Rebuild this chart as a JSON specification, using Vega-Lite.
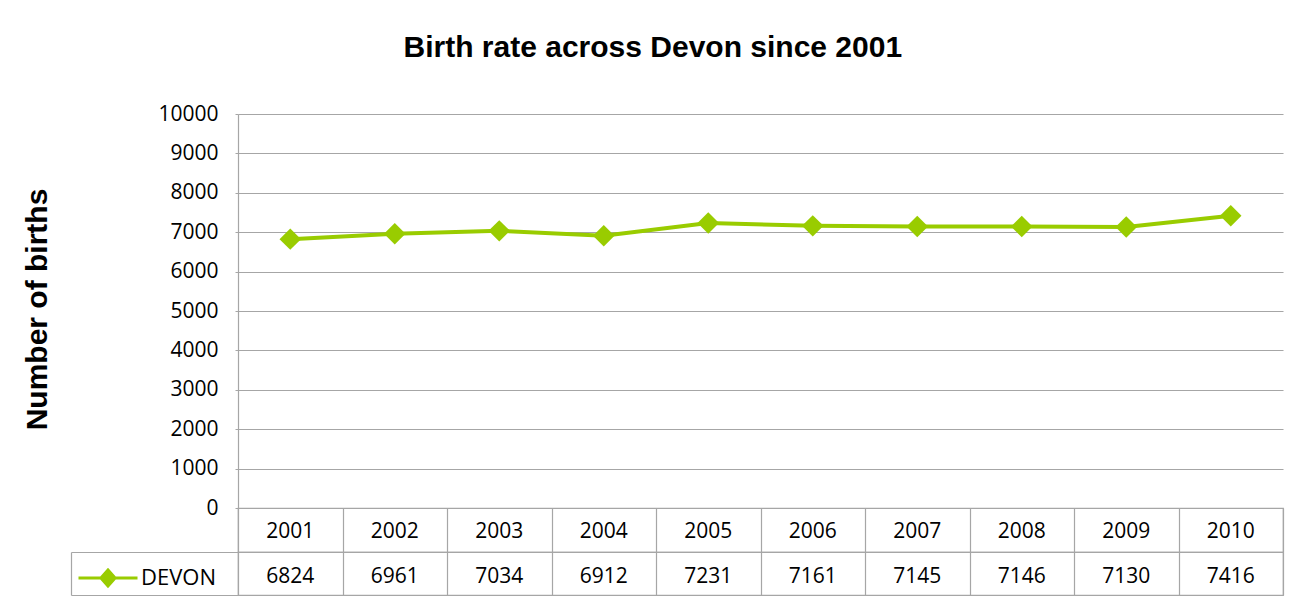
{
  "$schema": "https://vega.github.io/schema/vega-lite/v6.json",
  "padding": {"left": 21, "top": 33, "right": 5, "bottom": 5},
  "background": "white",
  "bounds": "flush",
  "spacing": 0,
  "title": {"text": "Birth rate across Devon since 2001", "font": "Liberation Sans", "fontSize": 30, "fontWeight": "bold", "color": "black", "anchor": "middle", "offset": 40},
  "datasets": {
    "births": [
      {"year": "2001", "births": 6824, "series": "DEVON"},
      {"year": "2002", "births": 6961, "series": "DEVON"},
      {"year": "2003", "births": 7034, "series": "DEVON"},
      {"year": "2004", "births": 6912, "series": "DEVON"},
      {"year": "2005", "births": 7231, "series": "DEVON"},
      {"year": "2006", "births": 7161, "series": "DEVON"},
      {"year": "2007", "births": 7145, "series": "DEVON"},
      {"year": "2008", "births": 7146, "series": "DEVON"},
      {"year": "2009", "births": 7130, "series": "DEVON"},
      {"year": "2010", "births": 7416, "series": "DEVON"}
    ]
  },
  "resolve": {"scale": {"x": "independent", "y": "independent", "color": "independent"}, "axis": {"x": "independent", "y": "independent"}, "legend": {"color": "independent"}},
  "vconcat": [
    {
      "width": 1045,
      "height": 394,
      "view": {"stroke": null},
      "data": {"name": "births"},
      "encoding": {
        "x": {"field": "year", "type": "ordinal", "scale": {"type": "point", "padding": 0.5}, "axis": null},
        "y": {
          "field": "births", "type": "quantitative",
          "scale": {"domain": [0, 10000], "nice": false},
          "axis": {
            "values": [0, 1000, 2000, 3000, 4000, 5000, 6000, 7000, 8000, 9000, 10000],
            "format": "d",
            "grid": true, "gridColor": "#a6a6a6", "gridWidth": 1.2,
            "domain": true, "domainColor": "#a6a6a6", "domainWidth": 1.2,
            "ticks": true, "tickSize": 3, "tickColor": "#a6a6a6",
            "labelFont": "Open Sans", "labelFontSize": 21, "labelColor": "black", "labelPadding": 17,
            "title": "Number of births",
            "titleFont": "Liberation Sans", "titleFontSize": 30, "titleFontWeight": "bold", "titleColor": "black",
            "titleAngle": -90, "titleX": -201, "titleY": 195, "titleAlign": "center", "titleBaseline": "middle"
          }
        },
        "color": {
          "field": "series", "type": "nominal",
          "scale": {"range": ["#99CC00"]},
          "legend": {
            "orient": "none", "legendX": -161, "legendY": 433, "title": null, "padding": 0,
            "symbolType": "M-1,0L1,0M0,-0.27L0.24,0L0,0.27L-0.24,0Z",
            "symbolSize": 3481, "symbolStrokeWidth": 3,
            "symbolFillColor": "#99CC00", "symbolStrokeColor": "#99CC00",
            "labelFont": "Open Sans", "labelFontSize": 22, "labelColor": "black", "labelOffset": 2,
            "encode": {"symbols": {"update": {"fill": {"value": "#99CC00"}, "stroke": {"value": "#99CC00"}, "strokeWidth": {"value": 3}, "opacity": {"value": 1}}}}
          }
        }
      },
      "layer": [
        {"mark": {"type": "line", "strokeWidth": 4}},
        {"mark": {"type": "point", "shape": "diamond", "filled": true, "size": 460, "opacity": 1}}
      ]
    },
    {
      "width": 1045,
      "height": 44,
      "view": {"stroke": "#a6a6a6", "strokeWidth": 1.2},
      "data": {"name": "births"},
      "mark": {"type": "text", "font": "Open Sans", "fontSize": 21, "color": "black", "dy": 2},
      "encoding": {
        "x": {"field": "year", "type": "ordinal", "scale": {"type": "band", "paddingInner": 0, "paddingOuter": 0},
              "axis": {"grid": true, "tickBand": "extent", "gridColor": "#a6a6a6", "gridWidth": 1.2, "labels": false, "ticks": false, "domain": false, "title": null}},
        "text": {"field": "year"}
      }
    },
    {
      "width": 1045,
      "height": 43,
      "view": {"stroke": "#a6a6a6", "strokeWidth": 1.2},
      "data": {"name": "births"},
      "mark": {"type": "text", "font": "Open Sans", "fontSize": 21, "color": "black", "dy": 3},
      "encoding": {
        "x": {"field": "year", "type": "ordinal", "scale": {"type": "band", "paddingInner": 0, "paddingOuter": 0},
              "axis": {"grid": true, "tickBand": "extent", "gridColor": "#a6a6a6", "gridWidth": 1.2, "labels": false, "ticks": false, "domain": false, "title": null}},
        "y": {"field": "series", "type": "nominal", "scale": {"type": "band", "paddingInner": 0, "paddingOuter": 0},
              "axis": {"orient": "left", "offset": 167, "domain": true, "domainColor": "#a6a6a6", "domainWidth": 1.2, "ticks": true, "tickBand": "extent", "tickSize": -167, "tickColor": "#a6a6a6", "tickWidth": 1.2, "labels": false, "grid": false, "title": null}},
        "text": {"field": "births"}
      }
    }
  ]
}
